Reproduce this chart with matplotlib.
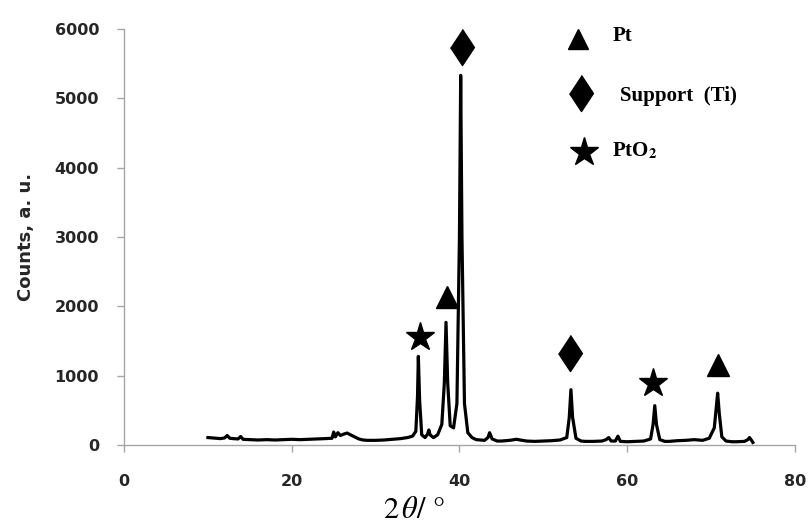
import numpy as np
import matplotlib
matplotlib.use("Agg")
import matplotlib.pyplot as plt

plt.rcParams["mathtext.fontset"] = "stix"

# XRD pattern
two_theta = [10.0, 10.5, 11.0, 11.5, 12.0, 12.3, 12.6, 13.0, 13.6, 13.9, 14.2, 15, 16, 17, 18,
             19, 20, 21, 22, 23, 24, 24.8, 25.0, 25.2, 25.5, 25.8, 26.2, 26.6, 27.0, 27.5,
             28, 28.5, 29, 30, 31, 32, 33, 33.8, 34.4, 34.8, 35.0, 35.1, 35.25, 35.5, 35.9,
             36.2, 36.35, 36.5, 36.9, 37.4, 37.9, 38.2, 38.4, 38.6, 38.9, 39.3, 39.7, 40.0,
             40.15, 40.3, 40.6, 41.0, 41.5, 42, 43, 43.4, 43.6, 43.9, 44.5, 45, 46, 46.8,
             47.5, 48, 49, 50, 51, 52, 52.8, 53.1, 53.3, 53.5, 53.9, 54.5, 55, 56, 57, 57.5,
             57.8, 58.1, 58.6, 58.9, 59.2, 60, 61, 62, 62.8, 63.1, 63.3, 63.5, 63.9, 64.5,
             65, 66, 67, 68, 69, 69.8, 70.4, 70.6, 70.8, 71.0, 71.3, 71.8, 72.5, 73, 74,
             74.4, 74.6, 74.9, 75]
counts = [110, 105, 100, 95, 105, 140, 100, 95, 90, 125, 85, 80, 75, 80, 75,
          80, 85, 80, 85, 90, 95, 100, 190, 120, 180, 140, 160, 175, 150, 120,
          90, 75, 70, 70, 75, 85, 95, 110, 130, 200, 700, 1280, 650, 150, 110,
          160, 220, 150, 110, 150, 300, 900, 1770, 900, 280, 250, 600, 3000,
          5330, 3000, 600, 180, 110, 80, 70, 110, 180, 90, 60, 60, 70, 85,
          70, 60, 55, 60, 65, 75, 110, 400, 800, 400, 100, 60, 55, 55, 60, 80,
          110, 60, 60, 130, 55, 50, 55, 60, 90, 300, 570, 300, 80, 55,
          55, 65, 70, 80, 70, 100, 250, 500, 750, 450, 120, 60, 50, 50, 55,
          80, 110, 60, 40]

# phase markers above the peaks
pt_x = [38.5, 70.9]
pt_y = [2130, 1150]
ti_x = [40.3, 53.2]
ti_y = [5740, 1330]
pto2_x = [35.3, 63.05]
pto2_y = [1560, 890]

# legend (drawn inside the plot area)
legend_labels = ["Pt", "Support  (Ti)", r"PtO$_\mathbf{2}$"]

diamond = [(0, 1), (0.66, 0), (0, -1), (-0.66, 0)]

fig = plt.figure(figsize=(8.11, 5.25), dpi=100)
ax = fig.add_axes([0.153, 0.152, 0.827, 0.793])

ax.plot(two_theta, counts, color="black", linewidth=2.3, solid_joinstyle="round")

ax.plot(pt_x, pt_y, linestyle="none", marker="^", markersize=16, color="black")
ax.plot(ti_x, ti_y, linestyle="none", marker=diamond, markersize=26, color="black")
ax.plot(pto2_x, pto2_y, linestyle="none", marker="*", markersize=21, color="black")

ax.plot([54.2], [5860], marker="^", markersize=15, color="black")
ax.plot([54.55], [5080], marker=diamond, markersize=26, color="black")
ax.plot([54.8], [4230], marker="*", markersize=21, color="black")
serif = dict(family="Liberation Serif", fontweight="bold", fontsize=15, va="center")
ax.text(58.3, 5900, legend_labels[0], **serif)
ax.text(59.1, 5030, legend_labels[1], **serif)
ax.text(58.2, 4240, legend_labels[2], **serif)

ax.set_xlim(0, 80)
ax.set_ylim(0, 6000)
ax.set_xticks([0, 20, 40, 60, 80])
ax.set_yticks([0, 1000, 2000, 3000, 4000, 5000, 6000])

for side in ["top", "right"]:
    ax.spines[side].set_visible(False)
for side in ["left", "bottom"]:
    ax.spines[side].set_color("#a6a6a6")
    ax.spines[side].set_linewidth(1.0)

ax.tick_params(axis="both", direction="out", color="#a6a6a6", length=5, width=1,
               labelsize=11.5, labelcolor="#262626")
ax.tick_params(axis="y", pad=13)
ax.tick_params(axis="x", pad=16)
for lab in ax.get_xticklabels() + ax.get_yticklabels():
    lab.set_fontweight("bold")

ax.set_ylabel("Counts, a. u.", fontsize=13, fontweight="bold", color="#262626", labelpad=14)
ax.set_xlabel(r"2$\,\theta$/ °", fontsize=22, color="black", family="STIXGeneral")
ax.xaxis.set_label_coords(0.432, -0.125)

fig.savefig("out.png", dpi=100)
